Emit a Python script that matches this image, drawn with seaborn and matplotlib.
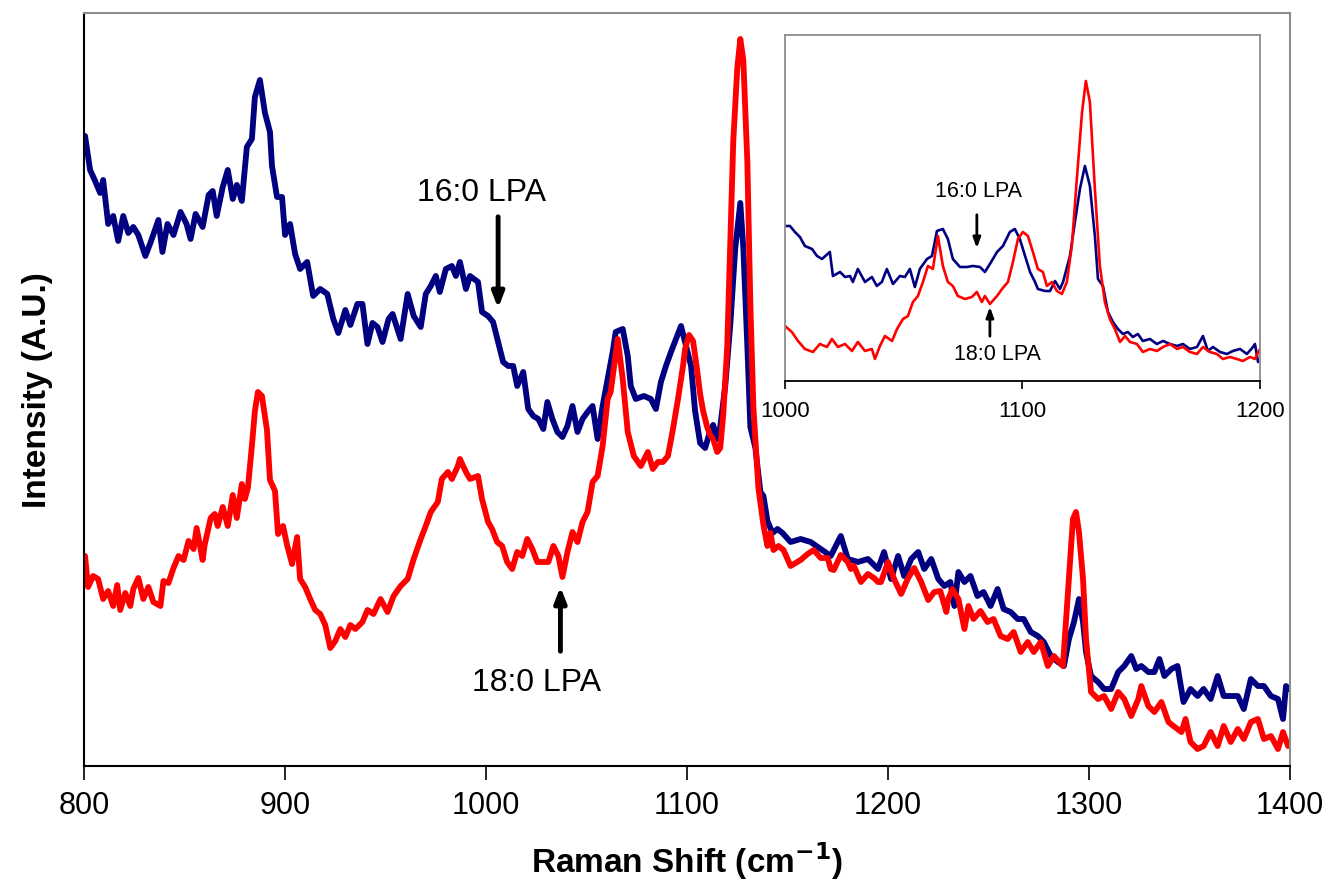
import seaborn as sns
import matplotlib.pyplot as plt
import pandas as pd

sns.set_style("white")
plt.rcParams['font.family'] = ['Liberation Sans', 'DejaVu Sans']
plt.rcParams['text.color'] = 'black'
plt.rcParams['axes.labelcolor'] = 'black'
plt.rcParams['xtick.color'] = 'black'
plt.rcParams['lines.solid_joinstyle'] = 'round'

# main spectra (Raman shift in cm-1, intensity in arbitrary units)
shift_16 = [800.5, 803, 805.5, 808, 809.5, 812, 814.5, 817, 819.5, 822, 824.5, 827, 830.5, 833, 837, 839,
            841.5, 844.5, 848, 851, 853, 855.5, 859, 862, 864, 866, 869, 871.5, 874, 876, 878.5, 881,
            883.5, 885, 887.5, 890, 892.5, 893.5, 896, 898.5, 900, 902.5, 905, 907.5, 911, 914, 917.5,
            921, 924, 926.5, 930, 932.5, 936, 938.5, 941, 943.5, 946, 948.5, 951.5, 953.5, 957.5, 961,
            964, 967.5, 970, 972.5, 975, 977, 980, 983, 985, 987, 990, 992, 996, 998, 1001, 1003.5,
            1006, 1008.5, 1011, 1013.5, 1015.5, 1018.5, 1021, 1023.5, 1026, 1028.5, 1030.5, 1033,
            1035.5, 1038, 1040.5, 1043, 1045.5, 1048, 1050.5, 1053, 1055.5, 1058, 1060.5, 1063, 1064.5,
            1068, 1070.5, 1072, 1074.5, 1078.5, 1082, 1084.5, 1087, 1089.5, 1092, 1094.5, 1097, 1099,
            1102, 1104, 1106.5, 1109, 1111.5, 1113, 1115, 1116.5, 1119, 1121.5, 1124, 1126.5, 1128,
            1130, 1131.5, 1134, 1136.5, 1138, 1140, 1142.5, 1145, 1147.5, 1151.5, 1156.5, 1161.5,
            1166.5, 1171.5, 1176.5, 1180, 1185, 1190, 1195, 1198, 1201.5, 1205, 1208, 1211.5, 1215,
            1218, 1221.5, 1225, 1228, 1231, 1233, 1235, 1238, 1241, 1244.5, 1247.5, 1251, 1254.5,
            1257.5, 1261, 1264.5, 1267.5, 1271, 1274.5, 1277.5, 1281, 1284.5, 1287.5, 1290, 1292.5,
            1295, 1297, 1298.5, 1301, 1304.5, 1307.5, 1311, 1314.5, 1317.5, 1321, 1323.5, 1326, 1329.5,
            1332.5, 1335, 1337.5, 1341, 1344, 1347, 1350.5, 1354, 1357, 1360.5, 1364, 1367, 1370.5,
            1374, 1377, 1380.5, 1384, 1387, 1390.5, 1394, 1396.5, 1398, 1399.5]
int_16 = [630, 596, 585, 573, 586, 542, 550, 525, 550, 533, 539, 531, 510, 523, 546, 514,
          542, 531, 554, 542, 527, 552, 539, 571, 575, 550, 579, 596, 567, 581, 565, 619,
          627, 669, 686, 653, 634, 600, 569, 569, 531, 542, 512, 497, 504, 470, 477,
          472, 447, 433, 456, 441, 462, 462, 422, 443, 439, 424, 447, 452, 427, 472,
          450, 439, 472, 480, 490, 474, 497, 500, 490, 504, 477, 490, 484, 454, 450, 444,
          424, 404, 400, 400, 380, 394, 357, 350, 347, 337, 364, 347,
          334, 329, 340, 360, 334, 347, 354, 360, 327, 360, 387, 414, 434,
          437, 410, 380, 367, 370, 367, 357, 384, 400, 414, 427, 440, 424,
          400, 355, 323, 318, 335, 341, 327, 339, 380, 441, 518, 563, 518,
          420, 339, 318, 274, 270, 245, 233, 237, 233, 224, 227, 224,
          217, 210, 230, 207, 204, 207, 197, 214, 187, 210, 190, 207, 214,
          197, 207, 187, 180, 184, 160, 194, 184, 190, 170, 174, 160, 177,
          157, 154, 147, 147, 134, 130, 124, 110, 104, 100, 127, 144,
          167, 144, 114, 90, 84, 77, 77, 94, 100, 110, 97, 100, 94,
          94, 107, 90, 97, 100, 64, 77, 70, 77, 67, 90, 70, 70,
          70, 57, 87, 80, 80, 70, 67, 47, 80, 77]

shift_18 = [800.5, 802, 804.5, 807, 809.5, 812, 814.5, 816.5, 818, 820.5, 823, 824.5, 827, 829.5, 832,
            834.5, 838, 839.5, 842, 844.5, 847, 849.5, 852, 854.5, 856, 859, 860, 863, 865, 866.5, 869,
            871.5, 874, 876, 878.5, 880, 881.5, 883.5, 885, 886.5, 888.5, 891, 892.5, 895, 896.5, 899,
            901, 903.5, 906, 907.5, 910, 912.5, 915, 917.5, 920, 922.5, 925, 927.5, 930, 932.5, 935,
            938.5, 941, 944, 947.5, 951, 954, 957.5, 961, 964, 967.5, 970, 972.5, 976, 978, 981, 983,
            986, 987, 990, 992, 996, 998, 1001, 1003, 1005.5, 1008, 1010.5, 1013, 1015.5, 1018, 1020.5,
            1023, 1025.5, 1028.5, 1031, 1033.5, 1036, 1038, 1040.5, 1043, 1045.5, 1048, 1050.5, 1053,
            1055.5, 1058, 1060.5, 1062, 1063.5, 1065.5, 1068, 1070.5, 1073.5, 1077, 1080.5, 1083,
            1085.5, 1088, 1090.5, 1093, 1095.5, 1098, 1099, 1101, 1103, 1105, 1106.5, 1108, 1110,
            1111.5, 1113, 1115, 1116.5, 1118, 1120, 1121.5, 1123, 1125, 1126.5, 1128, 1130, 1131.5,
            1133, 1135.5, 1138, 1140, 1141.5, 1143, 1145.5, 1148, 1151.5, 1156.5, 1160, 1163, 1166.5,
            1170, 1171.5, 1173, 1176.5, 1180, 1181.5, 1183, 1186.5, 1190, 1193, 1195, 1196.5, 1200,
            1203, 1206.5, 1210, 1213, 1216.5, 1220, 1223, 1226, 1229, 1230, 1232, 1235, 1238, 1240,
            1242.5, 1246, 1249.5, 1252.5, 1256, 1259.5, 1262.5, 1266, 1269.5, 1272.5, 1276, 1279.5,
            1282.5, 1287, 1289.5, 1292, 1293.5, 1295, 1297, 1298.5, 1301, 1304.5, 1307.5, 1311,
            1314.5, 1317.5, 1321, 1324.5, 1326, 1329.5, 1332.5, 1336, 1339.5, 1342, 1346, 1348,
            1350.5, 1354, 1357, 1360.5, 1364, 1367, 1370.5, 1374, 1377, 1380.5, 1384, 1387, 1390.5,
            1394, 1396.5, 1399]
int_18 = [210, 179, 190, 187, 167, 175, 160, 181, 156, 173, 160, 177, 188, 167, 179,
          164, 160, 185, 183, 198, 210, 206, 225, 217, 238, 206, 221, 248, 252, 240, 259,
          240, 271, 248, 282, 267, 278, 320, 355, 374, 370, 336, 286, 275, 232, 240,
          221, 202, 229, 187, 179, 167, 156, 152, 141, 118, 125, 137, 129, 141, 137,
          144, 156, 152, 167, 154, 170, 180, 187, 207, 227, 240, 254, 264, 287, 294, 287,
          300, 307, 294, 287, 290, 267, 244, 237, 224, 220, 204, 197, 214, 210, 227,
          217, 204, 204, 204, 220, 210, 189, 214, 234, 224, 244, 254, 284,
          290, 320, 367, 374, 397, 427, 387, 334, 310, 300, 314, 297,
          304, 304, 310, 337, 367, 400, 417, 431, 425, 396, 372, 355, 339,
          331, 327, 314, 318, 351, 420, 523, 625, 698, 727, 706, 604, 461,
          359, 278, 241, 220, 233, 216, 220, 216, 200, 206, 212, 216, 208,
          208, 197, 196, 211, 204, 197, 200, 184, 192, 188, 184, 184, 204,
          187, 172, 188, 198, 184, 166, 174, 175, 154, 167, 177, 167, 137, 160,
          147, 155, 144, 147, 130, 127, 134, 114, 124, 114, 124, 100,
          110, 100, 174, 247, 254, 234, 187, 127, 74, 67, 70, 57,
          74, 67, 50, 67, 80, 60, 54, 64, 44, 40, 34, 47,
          24, 17, 20, 34, 20, 40, 24, 37, 27, 44, 47, 27, 30,
          17, 34, 20]

# inset spectra, 1000-1200 cm-1, separately scaled
ins_shift_16 = [1000, 1002.1, 1004.2, 1006.3, 1008.4, 1011.4, 1013.5, 1015.6, 1018.9, 1020.2, 1023.2,
                1025.3, 1027.4, 1028.6, 1030.7, 1033.7, 1036.6, 1038.7, 1040.8, 1042.9, 1045.5, 1048.4,
                1050.5, 1052.6, 1054.7, 1056.8, 1059.8, 1061.9, 1064, 1066.5, 1068.6, 1070.7, 1073.7,
                1076.6, 1079.2, 1082.1, 1084.2, 1086.3, 1089.3, 1091.8, 1094.7, 1096.8, 1098.9, 1101.1,
                1103.2, 1105.3, 1106.5, 1109.5, 1111.6, 1113.7, 1115.8, 1117.1, 1120, 1122.1, 1124.2,
                1126.3, 1128.4, 1130.5, 1131.8, 1133.9, 1136, 1138.1, 1140.2, 1142.3, 1144.4, 1146.5,
                1148.6, 1150.7, 1153.7, 1156.6, 1159.2, 1162.1, 1165.1, 1167.6, 1170.5, 1173.5, 1176,
                1178.1, 1180.2, 1183.2, 1186.1, 1188.6, 1191.6, 1194.5, 1197.1, 1197.9, 1199.2]
ins_int_16 = [155, 155, 149, 144, 135, 132, 125, 122, 129, 105, 109,
              104, 105, 99, 112, 99, 104, 95, 99, 112, 97, 105,
              104, 112, 94, 112, 122, 125, 150, 152, 142, 122, 114,
              114, 115, 114, 109, 117, 129, 135, 149, 152, 142, 125,
              109, 99, 92, 90, 90, 100, 92, 99, 125, 159, 192,
              215, 195, 145, 102, 95, 69, 59, 52, 47, 49, 44,
              47, 40, 42, 37, 40, 37, 35, 37, 32, 34, 45,
              30, 34, 29, 27, 30, 32, 27, 34, 37, 19]

ins_shift_18 = [1000, 1002.9, 1005.5, 1008.4, 1011.8, 1014.7, 1017.7, 1019.8, 1022.3, 1025.3, 1028.2,
                1030.7, 1033.7, 1036.6, 1037.9, 1040, 1042.1, 1045.1, 1047.2, 1049.7, 1051.8, 1053.9,
                1056, 1058.1, 1060.2, 1062.3, 1064.4, 1066.5, 1068.6, 1070.7, 1072.8, 1075.8, 1078.7,
                1080.8, 1082.9, 1084.2, 1086.3, 1089.3, 1091.4, 1093.9, 1096, 1098.1, 1100.2, 1102.3,
                1104.4, 1106.5, 1108.6, 1110.3, 1112.4, 1114.5, 1116.6, 1118.7, 1120.8, 1122.9, 1125.1,
                1126.7, 1128.4, 1130.5, 1132.6, 1134.7, 1136.8, 1138.9, 1141.1, 1143.2, 1145.3, 1148.2,
                1150.7, 1153.7, 1156.6, 1159.2, 1162.1, 1165.1, 1167.6, 1170.5, 1173.5, 1176, 1178.9,
                1181.9, 1184.4, 1187.4, 1190.3, 1192.8, 1195.8, 1197.9, 1200]
ins_int_18 = [55, 49, 40, 32, 29, 37, 34, 42, 34, 37, 30,
              39, 30, 32, 22, 35, 45, 40, 52, 62, 65, 79,
              85, 99, 115, 112, 145, 115, 99, 95, 85, 82, 84,
              89, 79, 85, 77, 85, 92, 99, 119, 142, 149, 145,
              129, 112, 109, 95, 99, 90, 87, 99, 135, 202, 269,
              300, 279, 192, 115, 79, 62, 52, 39, 45, 39, 37,
              29, 32, 30, 34, 37, 32, 34, 29, 27, 34, 29,
              27, 22, 24, 22, 20, 24, 22, 32]

main_ticks = [800, 900, 1000, 1100, 1200, 1300, 1400]
inset_ticks = [1000, 1100, 1200]

navy = '#000080'
red = '#FF0000'
grey = '#8C8C8C'

fig = plt.figure(figsize=(13.32, 8.95), dpi=100)
ax = fig.add_axes([0.0631, 0.143, 0.9054, 0.8414])

sns.lineplot(x=shift_16, y=int_16, color=navy, linewidth=4.2, estimator=None, ax=ax)
sns.lineplot(x=shift_18, y=int_18, color=red, linewidth=4.2, estimator=None, ax=ax)
ax.set_xlim(800, 1400)
ax.set_ylim(0, 753)
ax.set_xticks(main_ticks)
ax.set_yticks([])
ax.tick_params(axis='x', direction='out', length=10, width=1.2, pad=7, labelsize=22, bottom=True)
ax.set_xlabel('Raman Shift (cm$^{\\mathbf{-1}}$)', fontsize=24, fontweight='bold', labelpad=14)
ax.set_ylabel('Intensity (A.U.)', fontsize=24, fontweight='bold', labelpad=22)
for s in ['top', 'right']:
    ax.spines[s].set_color(grey)
    ax.spines[s].set_linewidth(1.5)
for s in ['left', 'bottom']:
    ax.spines[s].set_color('black')
    ax.spines[s].set_linewidth(1.5)

arrow = dict(arrowstyle='-|>,head_width=0.35,head_length=0.9', color='black', lw=3.5)
ax.annotate('', xy=(1006, 455), xytext=(1006, 552), arrowprops=arrow)
ax.text(998, 574, '16:0 LPA', fontsize=23, ha='center', va='center')
ax.annotate('', xy=(1037, 182), xytext=(1037, 112), arrowprops=arrow)
ax.text(1025, 84, '18:0 LPA', fontsize=23, ha='center', va='center')

# inset
ins = fig.add_axes([0.5893, 0.5732, 0.3566, 0.3866])
sns.lineplot(x=ins_shift_16, y=ins_int_16, color=navy, linewidth=1.9, estimator=None, ax=ins)
sns.lineplot(x=ins_shift_18, y=ins_int_18, color=red, linewidth=1.9, estimator=None, ax=ins)
ins.set_xlim(1000, 1200)
ins.set_ylim(0, 346)
ins.set_xticks(inset_ticks)
ins.set_yticks([])
ins.tick_params(axis='x', direction='out', length=6, width=1.2, pad=8, labelsize=16, bottom=True)
for s in ['top', 'right', 'left']:
    ins.spines[s].set_color(grey)
    ins.spines[s].set_linewidth(1.3)
ins.spines['bottom'].set_color('black')
ins.spines['bottom'].set_linewidth(1.3)

arrow2 = dict(arrowstyle='-|>,head_width=0.22,head_length=0.6', color='black', lw=2)
ins.annotate('', xy=(1080.8, 130), xytext=(1080.8, 169), arrowprops=arrow2)
ins.text(1081.7, 190, '16:0 LPA', fontsize=15.5, ha='center', va='center')
ins.annotate('', xy=(1086.3, 77), xytext=(1086.3, 42), arrowprops=arrow2)
ins.text(1089.3, 27, '18:0 LPA', fontsize=15.5, ha='center', va='center')

fig.savefig('out.png', dpi=100)
